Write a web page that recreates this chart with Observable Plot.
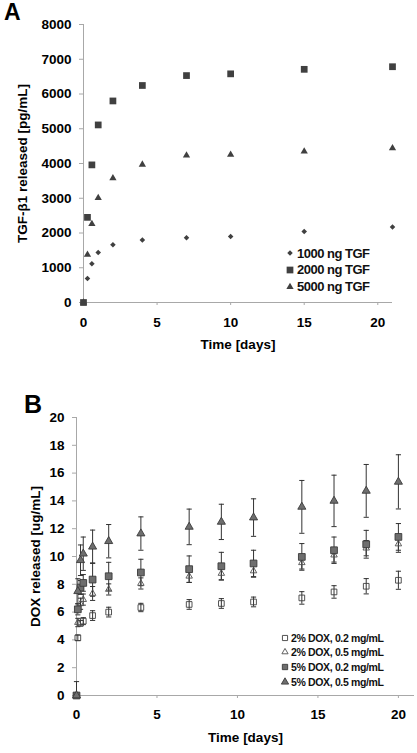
<!DOCTYPE html>
<html><head><meta charset="utf-8">
<script src="https://cdn.jsdelivr.net/npm/d3@7"></script>
<script src="https://cdn.jsdelivr.net/npm/@observablehq/plot@0.6"></script>
<style>
body{margin:0;background:#fff;}
#wrap{position:relative;width:417px;height:753px;font-family:"Liberation Sans",Arial,sans-serif;overflow:hidden;}
#wrap svg{display:block;}
.letter{position:absolute;font-weight:bold;color:#000;line-height:1;}
.legrow{position:absolute;display:flex;align-items:center;font-weight:bold;color:#111;white-space:nowrap;}
.legrow svg{display:inline-block;}
</style></head><body><div id="wrap"></div>
<script>
// ---------- Panel A data ----------
const timeA = [0, 0.27, 0.57, 1, 2, 4, 7, 10, 15, 21];
const tgf1000 = [0, 690, 1115, 1440, 1660, 1800, 1865, 1900, 2045, 2170];
const tgf2000 = [0, 2450, 3960, 5110, 5800, 6245, 6530, 6580, 6710, 6785];
const tgf5000 = [0, 1375, 2260, 3010, 3575, 3970, 4230, 4255, 4350, 4440];
const seriesA = ["1000 ng TGF", "2000 ng TGF", "5000 ng TGF"];
const ticksAY = [0, 1000, 2000, 3000, 4000, 5000, 6000, 7000, 8000];
const ticksX = [0, 5, 10, 15, 20];

// ---------- Panel B data ----------
const timeB = [0, 0.083, 0.25, 0.42, 1, 2, 4, 7, 9, 11, 14, 16, 18, 20];
const dox2low = [0, 4.15, 5.2, 5.35, 5.75, 6.0, 6.33, 6.55, 6.62, 6.73, 7.02, 7.45, 7.86, 8.29];
const dox2lowErr = [0, 0.2, 0.2, 0.25, 0.35, 0.35, 0.3, 0.35, 0.35, 0.35, 0.45, 0.45, 0.55, 0.65];
const dox2high = [0, 5.25, 6.6, 6.9, 7.34, 7.63, 8.06, 8.58, 8.78, 8.96, 9.55, 10.1, 10.6, 10.9];
const dox2highErr = [0, 0.3, 0.4, 0.4, 0.5, 0.4, 0.4, 0.45, 0.45, 0.45, 0.45, 0.5, 0.55, 0.6];
const dox5low = [0, 6.2, 7.77, 8.1, 8.34, 8.58, 8.85, 9.09, 9.3, 9.5, 9.97, 10.45, 10.88, 11.41];
const dox5lowErr = [1.0, 0.4, 0.5, 0.6, 1.2, 1.0, 0.95, 0.95, 1.0, 0.95, 0.96, 0.95, 1.0, 0.96];
const dox5high = [0, 7.5, 9.73, 10.2, 10.7, 11.1, 11.65, 12.13, 12.49, 12.8, 13.57, 14.0, 14.72, 15.37];
const dox5highErr = [0, 0.9, 1.1, 1.2, 1.2, 1.2, 1.2, 1.28, 1.27, 1.35, 1.9, 1.85, 1.9, 1.95];
const seriesB = ["2% DOX, 0.2 mg/mL", "2% DOX, 0.5 mg/mL", "5% DOX, 0.2 mg/mL", "5% DOX, 0.5 mg/mL"];
const ticksBY = [0, 2, 4, 6, 8, 10, 12, 14, 16, 18, 20];

// ---------- styles ----------
const axisGray = "#a8a8a8";
const markDark = "#404040";
const symA = ["diamond2", "square", "triangle"];
const rA = [2.5, 3.8, 2.7];
const symB = ["square", "triangle", "square", "triangle"];
const rB = [3.2, 2.4, 3.8, 3.0];
const fillB = ["none", "none", "#6e6e6e", "#6e6e6e"];
const strokeB = ["#404040", "#505050", "#3a3a3a", "#3a3a3a"];
const capSymbol = {draw(ctx, size) { const w = Math.sqrt(size / Math.PI); ctx.moveTo(-w, 0); ctx.lineTo(w, 0); }};
const plainFormat = d => String(d);

const svgStyle = {fontFamily: "'Liberation Sans', Arial, sans-serif", fontSize: "13.5px", fontWeight: "bold", overflow: "visible", background: "#fff"};

const wrap = document.getElementById("wrap");

// ---------- Panel A ----------
const valuesA = [tgf1000, tgf2000, tgf5000];
const rowsA = seriesA.flatMap((s, i) => timeA.map((t, j) => ({series: s, t, v: valuesA[i][j]})));
const drawOrderA = [0, 2, 1];
const plotA = Plot.plot({
  width: 417, height: 375,
  marginLeft: 83, marginRight: 25, marginTop: 24, marginBottom: 73,
  style: svgStyle,
  x: {domain: [0, 21]},
  y: {domain: [0, 8000]},
  marks: [
    Plot.ruleX([0], {stroke: axisGray}),
    Plot.ruleY([0], {stroke: axisGray}),
    Plot.axisY({ticks: ticksAY, tickFormat: plainFormat, tickSize: 4, tickPadding: 8, stroke: axisGray, fill: "#000",
      label: "TGF-β1 released [pg/mL]", labelAnchor: "center", labelArrow: "none", labelOffset: 66}),
    Plot.axisX({ticks: ticksX, tickFormat: plainFormat, tickSize: 3, tickPadding: 12, stroke: axisGray, fill: "#000",
      label: "Time [days]", labelAnchor: "center", labelArrow: "none", labelOffset: 46}),
    ...drawOrderA.map(i => Plot.dot(rowsA.filter(d => d.series === seriesA[i]),
      {x: "t", y: "v", symbol: symA[i], r: rA[i], fill: markDark, stroke: "none"}))
  ]
});
wrap.appendChild(plotA);

// ---------- Panel B ----------
const valuesB = [dox2low, dox2high, dox5low, dox5high];
const errorsB = [dox2lowErr, dox2highErr, dox5lowErr, dox5highErr];
const rowsB = seriesB.flatMap((s, i) => timeB.map((t, j) => {
  const v = valuesB[i][j], e = errorsB[i][j];
  return {series: s, t, v, e, lo: Math.max(0, v - e), hi: v + e};
}));
const marksB = [];
seriesB.forEach((s, i) => {
  const rows = rowsB.filter(d => d.series === s && d.e > 0);
  marksB.push(Plot.ruleX(rows, {x: "t", y1: "lo", y2: "hi", stroke: "#333", strokeWidth: 1}));
  marksB.push(Plot.dot(rows, {x: "t", y: "hi", symbol: capSymbol, r: 2.6, fill: "none", stroke: "#333", strokeWidth: 1}));
  marksB.push(Plot.dot(rows.filter(d => d.v - d.e > 0), {x: "t", y: "lo", symbol: capSymbol, r: 2.6, fill: "none", stroke: "#333", strokeWidth: 1}));
});
seriesB.forEach((s, i) => {
  marksB.push(Plot.dot(rowsB.filter(d => d.series === s),
    {x: "t", y: "v", symbol: symB[i], r: rB[i], fill: fillB[i], stroke: strokeB[i], strokeWidth: 0.9}));
});
const plotB = Plot.plot({
  width: 417, height: 378,
  marginLeft: 76, marginRight: 3, marginTop: 42, marginBottom: 58,
  style: svgStyle,
  x: {domain: [0, 21]},
  y: {domain: [0, 20]},
  marks: [
    Plot.ruleX([0], {stroke: axisGray}),
    Plot.ruleY([0], {stroke: axisGray}),
    Plot.axisY({ticks: ticksBY, tickFormat: plainFormat, tickSize: 4, tickPadding: 8, stroke: axisGray, fill: "#000",
      label: "DOX released [ug/mL]", labelAnchor: "center", labelArrow: "none", labelOffset: 46.5}),
    Plot.axisX({ticks: ticksX, tickFormat: plainFormat, tickSize: 3, tickPadding: 11, stroke: axisGray, fill: "#000",
      label: "Time [days]", labelAnchor: "center", labelArrow: "none", labelOffset: 46}),
    ...marksB
  ]
});
wrap.appendChild(plotB);

// ---------- panel letters ----------
function letter(txt, left, top, size) {
  const d = document.createElement("div");
  d.className = "letter"; d.textContent = txt;
  d.style.left = left + "px"; d.style.top = top + "px"; d.style.fontSize = size + "px";
  wrap.appendChild(d);
}
letter("A", 4, 1, 23);
letter("B", 24, 392, 25);

// ---------- legends ----------
function symbolSvg(sym, r, fill, stroke, sw) {
  const map = {square: d3.symbolSquare, triangle: d3.symbolTriangle, diamond2: d3.symbolDiamond2};
  const size = 14;
  const p = d3.symbol(map[sym], Math.PI * r * r)();
  return `<svg width="${size}" height="${size}" viewBox="${-size/2} ${-size/2} ${size} ${size}"><path d="${p}" fill="${fill}" stroke="${stroke}" stroke-width="${sw}"/></svg>`;
}
function legend(names, syms, rs, fills, strokes, sw, left, firstY, step, fontSize, ls, gap) {
  names.forEach((n, i) => {
    const row = document.createElement("div");
    row.className = "legrow";
    row.style.left = left + "px";
    row.style.top = (firstY + i * step - 7) + "px";
    row.style.height = "14px";
    row.style.fontSize = fontSize + "px";
    row.style.letterSpacing = ls + "px";
    row.innerHTML = symbolSvg(syms[i], rs[i], fills[i], strokes[i], sw) + `<span style="margin-left:${gap}px">${n}</span>`;
    wrap.appendChild(row);
  });
}
legend(seriesA, symA, rA, [markDark, markDark, markDark], ["none", "none", "none"], 0, 283, 253, 16.8, 13, -0.5, 0);
legend(seriesB, symB, [2.9, 2.3, 3.0, 2.7], ["#fff", "#fff", "#6e6e6e", "#6e6e6e"], strokeB, 0.9, 278, 637.7, 14.6, 10.5, -0.35, -1);
</script></body></html>
